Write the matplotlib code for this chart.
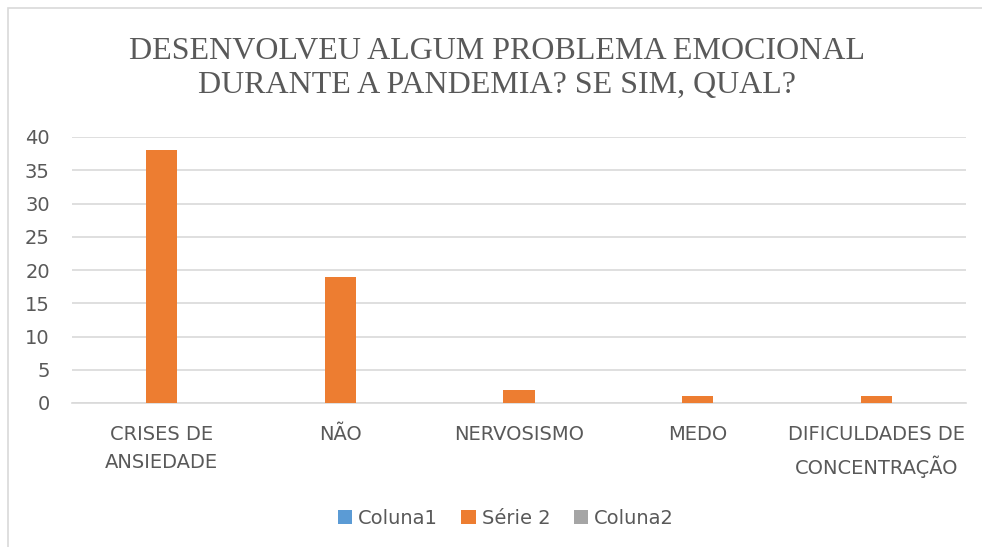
import numpy as np
import matplotlib
matplotlib.use('Agg')
import matplotlib.pyplot as plt
from matplotlib.patches import Rectangle

# data
categories = ['CRISES DE\nANSIEDADE', 'NÃO', 'NERVOSISMO', 'MEDO', 'DIFICULDADES DE\nCONCENTRAÇÃO']
series_names = ['Coluna1', 'Série 2', 'Coluna2']
coluna1 = [0, 0, 0, 0, 0]
serie2 = [38, 19, 2, 1, 1]
coluna2 = [0, 0, 0, 0, 0]
yticks = [0, 5, 10, 15, 20, 25, 30, 35, 40]

colors = ['#5B9BD5', '#ED7D31', '#A5A5A5']
txt = '#595959'
sans = ['DejaVu Sans']

fig = plt.figure(figsize=(9.82, 5.47), dpi=100)
# outer chart frame
fig.patches.append(Rectangle((8/982, -0.05), 1.1, 1 - 8/547 + 0.05, transform=fig.transFigure,
                             fill=False, edgecolor='#D9D9D9', linewidth=1.2))

ax = fig.add_axes([72/982, 1 - 403/547, (966 - 72)/982, (403 - 137)/547])
x = np.arange(len(categories))
w = 0.175
for i, vals in enumerate([coluna1, serie2, coluna2]):
    ax.bar(x + (i - 1) * w, vals, w, color=colors[i], label=series_names[i], zorder=3)

ax.set_xlim(-0.5, len(categories) - 0.5)
ax.set_ylim(0, 40)
ax.set_yticks(yticks)
ax.yaxis.grid(True, color='#D9D9D9', linewidth=1.2, zorder=0)
for s in ['top', 'right', 'left']:
    ax.spines[s].set_visible(False)
ax.spines['bottom'].set_color('#D9D9D9')
ax.spines['bottom'].set_linewidth(1.2)
ax.tick_params(axis='both', length=0, colors=txt, labelsize=14)
ax.tick_params(axis='y', pad=16)
ax.tick_params(axis='x', pad=16)
ax.set_xticks(x)
ax.set_xticklabels(categories, linespacing=1.6)
for lab in ax.get_xticklabels() + ax.get_yticklabels():
    lab.set_family(sans)

fig.text(497/982, 1 - 68.5/547, 'DESENVOLVEU ALGUM PROBLEMA EMOCIONAL\nDURANTE A PANDEMIA? SE SIM, QUAL?',
         ha='center', va='center', fontsize=23, color=txt, family='Liberation Serif', linespacing=1.25)

leg = fig.legend(loc='center', bbox_to_anchor=(506/982, 1 - 518/547), ncol=3, frameon=False,
                 prop={'family': sans, 'size': 14}, handlelength=0.75, handleheight=0.75,
                 handletextpad=0.3, columnspacing=1.2)
for t in leg.get_texts():
    t.set_color(txt)

fig.savefig('out.png', dpi=100)
